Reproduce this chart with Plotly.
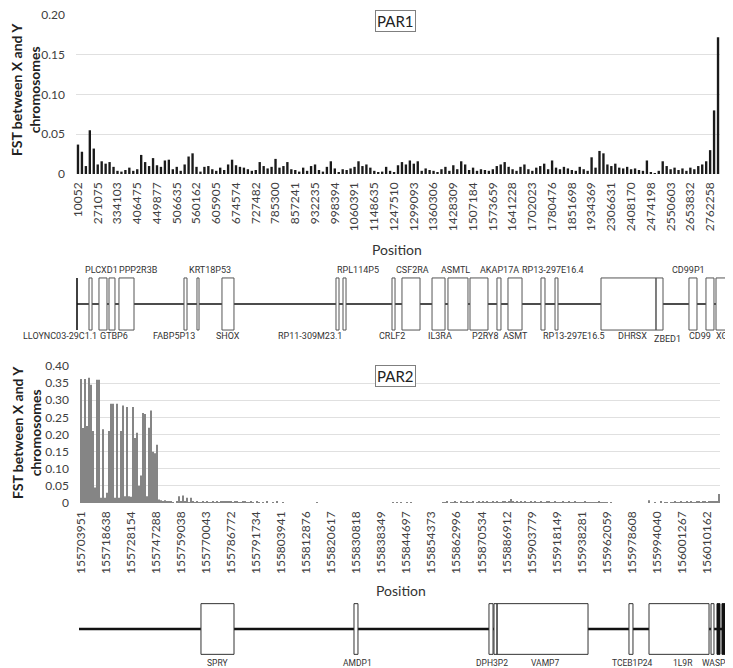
import plotly.graph_objects as go

# ---------------- data ----------------
par1_ticks = ["10052", "271075", "334103", "406475", "449877", "506635", "560162", "605905",
              "674574", "727482", "785300", "857241", "932235", "998394", "1060391", "1148635",
              "1247510", "1299093", "1360306", "1428309", "1507184", "1573659", "1641228",
              "1702023", "1780476", "1851698", "1934369", "2306631", "2408170", "2474198",
              "2550603", "2653832", "2762258"]

par1_fst = [
    .037, .028, .010, .055, .032, .012, .016, .013, .015, .009,
    .004, .003, .005, .008, .004, .006, .024, .015, .010, .020,
    .011, .009, .017, .018, .006, .009, .004, .012, .022, .026,
    .009, .003, .009, .010, .006, .004, .008, .005, .012, .018,
    .011, .009, .008, .006, .004, .005, .015, .010, .007, .009,
    .019, .008, .010, .015, .006, .005, .003, .008, .004, .010,
    .012, .005, .003, .009, .016, .007, .002, .006, .005, .007,
    .009, .016, .010, .012, .008, .004, .002, .003, .009, .004,
    .002, .011, .015, .012, .017, .013, .016, .004, .007, .005,
    .004, .002, .006, .009, .004, .011, .006, .016, .012, .005,
    .008, .004, .006, .005, .004, .006, .010, .012, .015, .009,
    .006, .004, .009, .012, .006, .004, .008, .010, .013, .006,
    .017, .008, .006, .009, .007, .005, .004, .009, .006, .004,
    .021, .008, .029, .026, .012, .010, .013, .008, .007, .009,
    .006, .007, .005, .004, .017, .002, .001, .004, .016, .010,
    .006, .008, .005, .007, .004, .008, .006, .010, .012, .016,
    .030, .080, .172]

par2_ticks = ["155703951", "155718638", "155728154", "155747288", "155759038", "155770043",
              "155786772", "155791734", "155803941", "155812876", "155820617", "155830818",
              "155838349", "155844697", "155854373", "155862996", "155870534", "155886912",
              "155903779", "155918149", "155938281", "155962059", "155978608", "155994040",
              "156001267", "156010162"]

par2_fst = [
    .362, .219, .362, .225, .366, .345, .210, .045, .360, .360,
    .015, .215, .015, .030, .210, .290, .290, .015, .290, .015,
    .210, .285, .020, .280, .020, .018, .280, .190, .205, .050,
    .080, .263, .260, .020, .220, .270, .150, .145, .170, .010,
    .008, .005, .008, .004, .006, .003, .002, .000, .004, .020,
    .003, .022, .006, .015, .002, .015, .004, .002, .003, .001,
    .002, .004, .002, .003, .002, .001, .003, .002, .004, .002,
    .003, .005, .003, .004, .006, .003, .002, .004, .003, .002,
    .001, .003, .004, .002, .001, .003, .002, .000, .003, .001,
    .000, .002, .000, .003, .000, .000, .002, .000, .003, .000,
    .000, .001, .000, .000, .000, .000, .000, .000, .000, .000,
    .000, .000, .000, .000, .000, .000, .000, .000, .001, .000,
    .000, .000, .000, .000, .000, .000, .000, .000, .000, .000,
    .000, .000, .000, .000, .000, .000, .000, .000, .000, .000,
    .000, .000, .000, .000, .000, .000, .000, .000, .000, .000,
    .000, .000, .000, .000, .000, .000, .002, .000, .001, .000,
    .002, .000, .000, .001, .000, .002, .000, .000, .000, .000,
    .000, .000, .000, .000, .000, .000, .000, .000, .000, .000,
    .000, .002, .001, .003, .000, .002, .001, .004, .002, .000,
    .003, .001, .002, .004, .002, .001, .003, .000, .002, .003,
    .001, .004, .002, .003, .001, .002, .005, .002, .003, .001,
    .002, .004, .003, .002, .006, .012, .003, .002, .004, .001,
    .003, .002, .005, .002, .001, .003, .002, .004, .001, .002,
    .003, .001, .002, .004, .003, .002, .001, .003, .002, .001,
    .002, .003, .001, .002, .004, .002, .001, .003, .002, .001,
    .002, .001, .003, .002, .001, .002, .001, .002, .001, .003,
    .001, .002, .001, .002, .000, .001, .000, .000, .000, .000,
    .000, .000, .000, .000, .000, .000, .000, .000, .000, .000,
    .000, .000, .000, .000, .008, .000, .000, .001, .000, .000,
    .003, .000, .001, .002, .000, .001, .002, .003, .001, .002,
    .003, .002, .001, .004, .002, .003, .001, .002, .004, .003,
    .002, .005, .003, .002, .004, .003, .006, .004, .003, .026]

# gene tracks (schematic position, % of region)
par1_track = [0.0, 100.0]
par1_genes = ["LLOYNC03-29C1.1", "PLCXD1", "GTBP6", "PPP2R3B", "FABP5P13", "KRT18P53", "SHOX",
              "RP11-309M23.1", "RPL114P5", "CRLF2", "CSF2RA", "IL3RA", "ASMTL", "P2RY8",
              "AKAP17A", "ASMT", "RP13-297E16.4", "RP13-297E16.5", "DHRSX", "ZBED1",
              "CD99P1", "CD99", "XG"]
par1_start = [1.83, 3.35, 4.88, 6.40, 16.31, 18.29, 22.10, 39.48, 40.55, 48.02, 49.54, 54.12,
              56.55, 59.91, 64.02, 65.70, 70.73, 72.87, 79.88, 88.26, 93.29, 95.88, 97.41]
par1_end = [2.29, 4.57, 5.79, 8.69, 16.77, 18.60, 23.93, 39.94, 41.01, 48.48, 52.29, 56.10,
            59.60, 62.65, 64.63, 67.84, 71.34, 73.32, 88.26, 89.33, 94.51, 97.10, 101.07]
par1_label_x = [-2.59, 3.66, 5.64, 9.45, 14.79, 20.27, 23.02, 35.52, 42.84, 48.02, 51.07, 55.34,
                57.77, 62.20, 64.33, 66.77, 72.56, 75.76, 84.61, 89.94, 93.14, 94.97, 98.32]
par1_label_side = ["b", "t", "b", "t", "b", "t", "b", "b", "t", "b", "t", "b", "t", "b",
                   "t", "b", "t", "b", "b", "b", "t", "b", "b"]

par2_track = [0.0, 100.0]
par2_genes = ["SPRY", "AMDP1", "DPH3P2", "", "VAMP7", "TCEB1P24", "1L9R", "WASP6"]
par2_start = [18.94, 42.70, 63.66, 64.44, 64.91, 85.40, 88.51, 98.14]
par2_end = [24.07, 43.32, 64.29, 64.91, 79.04, 86.02, 97.83, 98.60]
par2_label_x = [21.43, 43.17, 64.13, 64.6, 72.36, 85.87, 93.79, 98.91]
par2_dark_start = [99.07, 99.84]
par2_dark_end = [99.53, 100.31]

# ---------------- figure ----------------
# the page body adds an 8px margin; the figure is sized and laid out to compensate
OFF = 8
W, H = 733 - OFF, 668 - OFF
def fx(px):
    return (px - OFF) / W
def fy(py):
    return min(1.0, max(0.0, 1 - (py - OFF) / H))

FONT = "Lato, 'Open Sans', sans-serif"
GFONT = "Roboto, 'Liberation Sans', sans-serif"

fig = go.Figure()

fig.add_trace(go.Bar(x=list(range(len(par1_fst))), y=par1_fst, xaxis="x", yaxis="y", width=0.6,
                     marker=dict(color="#1a1a1a", line_width=0), showlegend=False))
fig.add_trace(go.Bar(x=list(range(len(par2_fst))), y=par2_fst, xaxis="x2", yaxis="y2", width=0.72,
                     marker=dict(color="#858585", line_width=0), showlegend=False))

BOX1 = 0.62
BOX2 = 0.65

def box_path(starts, ends, h):
    xs, ys = [], []
    for a, b in zip(starts, ends):
        xs += [a, b, b, a, a, None]
        ys += [-h, -h, h, h, -h, None]
    return xs, ys

# PAR1 track
fig.add_trace(go.Scatter(x=par1_track, y=[0, 0], mode="lines", xaxis="x3", yaxis="y3",
                         line=dict(color="#111", width=1.6), showlegend=False, hoverinfo="skip"))
fig.add_trace(go.Scatter(x=[par1_track[0], par1_track[0]], y=[-BOX1, BOX1], mode="lines",
                         xaxis="x3", yaxis="y3", line=dict(color="#111", width=1.6),
                         showlegend=False, hoverinfo="skip"))
bx, by = box_path(par1_start, par1_end, BOX1)
fig.add_trace(go.Scatter(x=bx, y=by, mode="lines", fill="toself", fillcolor="white",
                         xaxis="x3", yaxis="y3", line=dict(color="#555", width=1),
                         showlegend=False, hoverinfo="skip"))

# PAR2 track
fig.add_trace(go.Scatter(x=par2_track, y=[0, 0], mode="lines", xaxis="x4", yaxis="y4",
                         line=dict(color="#111", width=2.4), showlegend=False, hoverinfo="skip"))
bx, by = box_path(par2_start, par2_end, BOX2)
fig.add_trace(go.Scatter(x=bx, y=by, mode="lines", fill="toself", fillcolor="white",
                         xaxis="x4", yaxis="y4", line=dict(color="#333", width=1),
                         showlegend=False, hoverinfo="skip"))
bx, by = box_path(par2_dark_start, par2_dark_end, BOX2)
fig.add_trace(go.Scatter(x=bx, y=by, mode="lines", fill="toself", fillcolor="#111",
                         xaxis="x4", yaxis="y4", line=dict(color="#111", width=1),
                         showlegend=False, hoverinfo="skip"))

annotations = []
for name, lx, side in zip(par1_genes, par1_label_x, par1_label_side):
    yv = 0.81 if side == "t" else (-0.84 if name == "ZBED1" else -0.77)
    annotations.append(dict(x=lx, y=yv, xref="x3", yref="y3", text=name, showarrow=False,
                            font=dict(family=GFONT, size=9, color="#333"),
                            xanchor="center", yanchor="middle"))
for name, lx in zip(par2_genes, par2_label_x):
    if name:
        annotations.append(dict(x=lx, y=-0.86, xref="x4", yref="y4", text=name, showarrow=False,
                                font=dict(family=GFONT, size=8.5, color="#333"),
                                xanchor="center", yanchor="middle"))

ytitle = "<b>FST between X and Y<br>chromosomes</b>"
def pann(px, py, text, size, **kw):
    d = dict(x=fx(px), y=fy(py), xref="paper", yref="paper", text=text, showarrow=False,
             xanchor="center", yanchor="middle",
             font=dict(family=FONT, size=size, color=kw.pop("color", "#222")))
    d.update(kw)
    return d

annotations += [
    pann(25, 90, ytitle, 14, textangle=-90),
    pann(26, 433, ytitle, 14, textangle=-90),
    pann(397, 249, "Position", 14, color="#333"),
    pann(401, 590, "Position", 14, color="#333"),
    pann(395, 21, "PAR1", 15, bordercolor="#7f7f7f", borderwidth=1, borderpad=1, bgcolor="white"),
    pann(395, 376, "PAR2", 15, bordercolor="#7f7f7f", borderwidth=1, borderpad=1, bgcolor="white"),
]

tickfont = dict(family=FONT, size=12, color="#404040")

fig.update_layout(
    width=W, height=H, margin=dict(l=0, r=0, t=0, b=0, autoexpand=False),
    paper_bgcolor="white", plot_bgcolor="white", showlegend=False,
    annotations=annotations,
    xaxis=dict(domain=[fx(76), fx(720)], anchor="y", range=[-0.5, len(par1_fst) - 0.5],
               tickmode="array", tickvals=[5 * i for i in range(len(par1_ticks))],
               ticktext=par1_ticks, tickangle=-90, tickfont=tickfont, showgrid=False,
               zeroline=False, showline=False, ticks="", ticklabelstandoff=5, automargin=False),
    yaxis=dict(domain=[fy(174), fy(15)], anchor="x", range=[0, 0.2],
               tickmode="array", tickvals=[0, 0.05, 0.10, 0.15, 0.20],
               ticktext=["0", "0.05", "0.10", "0.15", "0.20"], tickfont=tickfont,
               gridcolor="#e0e0e0", gridwidth=1, zeroline=False, showline=False, ticks="",
               ticklabelstandoff=10, ticklabeloverflow="allow", automargin=False),
    xaxis2=dict(domain=[fx(80), fx(720)], anchor="y2", range=[-0.5, len(par2_fst) - 0.5],
                tickmode="array", tickvals=[i * 313 / 25 for i in range(len(par2_ticks))],
                ticktext=par2_ticks, tickangle=-90, tickfont=tickfont, showgrid=False,
                zeroline=False, showline=False, ticks="", ticklabelstandoff=5, automargin=False),
    yaxis2=dict(domain=[fy(503), fy(366)], anchor="x2", range=[0, 0.40],
                tickmode="array", tickvals=[0, .05, .10, .15, .20, .25, .30, .35, .40],
                ticktext=["0", "0.05", "0.10", "0.15", "0.20", "0.25", "0.30", "0.35", "0.40"],
                tickfont=tickfont, gridcolor="#e0e0e0", gridwidth=1, zeroline=False,
                showline=False, ticks="", ticklabelstandoff=10, automargin=False),
    xaxis3=dict(domain=[0, 1], anchor="y3", range=[-(77 - OFF) / 6.56, 100], visible=False,
                automargin=False),
    yaxis3=dict(domain=[fy(346), fy(262)], anchor="x3", range=[-1, 1], visible=False,
                automargin=False),
    xaxis4=dict(domain=[0, 1], anchor="y4", range=[-(79 - OFF) / 6.44, 654 / 6.44], visible=False,
                automargin=False),
    yaxis4=dict(domain=[0, fy(590)], anchor="x4", range=[-1, 1], visible=False,
                automargin=False),
)

fig.write_html("out.html")
